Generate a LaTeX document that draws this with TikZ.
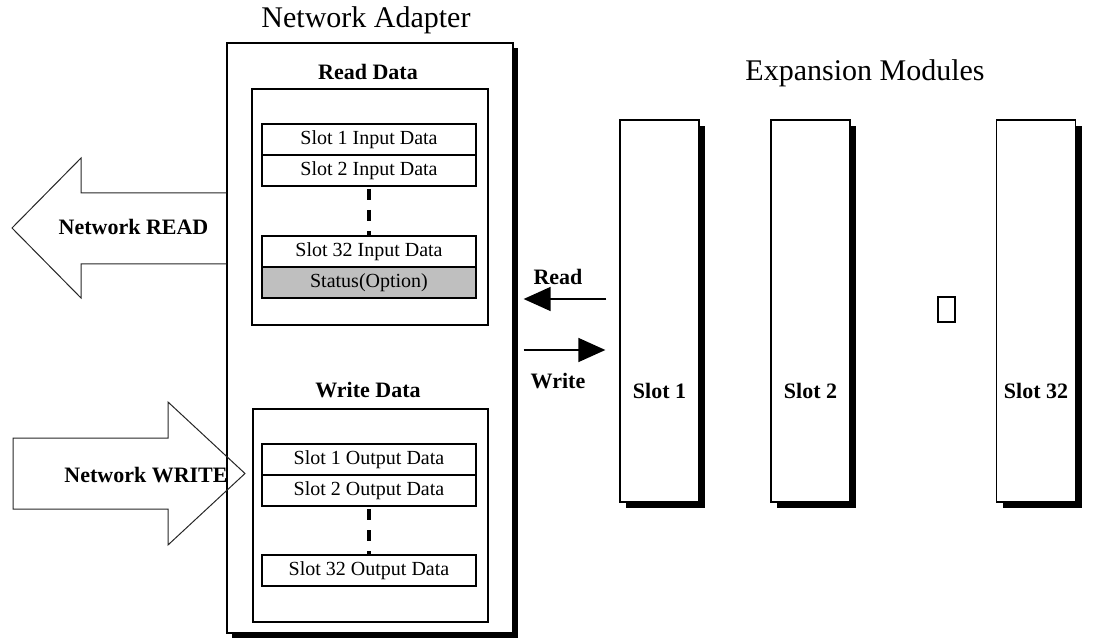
\documentclass[tikz,border=0pt]{standalone}
\usepackage{fontspec}
\setmainfont{Liberation Serif}
\usepackage{tikz}
\usetikzlibrary{arrows.meta}
\usetikzlibrary{calc}
\usetikzlibrary{shadows}

\tikzset{
  panel/.style={shape=rectangle,draw,fill=white,line width=1.3pt},
  hardshadow/.style={drop shadow={shadow xshift=#1,shadow yshift=-#1,fill=black,opacity=1}},
  datarow/.style={shape=rectangle,draw,fill=white,line width=1.3pt,outer sep=0pt,inner sep=0pt,minimum width=214pt,minimum height=31pt,text height=14pt,text depth=4pt,font=\fontsize{20}{24}\selectfont},
  heading/.style={anchor=base,font=\fontsize{30}{36}\selectfont},
  tag/.style={anchor=base,font=\fontsize{22}{26}\selectfont\bfseries},
  vdots/.style={line width=4pt,dash pattern=on 11pt off 10pt,shorten <=3pt},
  flow/.style={line width=1.5pt,-{Triangle[length=27pt,width=24pt]}},
  bigarrow/.style={draw=black!85,line width=1pt}
}

\begin{document}
\begin{tikzpicture}[x=1pt,y=-1pt]
\useasboundingbox (0,0) rectangle (1093,639);
% network adapter
\draw (370,338) node (adapter) [panel,hardshadow=5pt,minimum width=286pt,minimum height=590pt] {};
\draw (366,28) node [heading] {Network Adapter};
% read side
\draw (368,80) node [tag] {Read Data};
\draw (370,207) node (rdbox) [panel,minimum width=236pt,minimum height=236pt] {};
\draw (369,139.5) node (in1) [datarow] {Slot 1 Input Data};
\draw (in1.south) node (in2) [datarow,anchor=north] {Slot 2 Input Data};
\draw (369,251.5) node (in32) [datarow] {Slot 32 Input Data};
\draw (in32.south) node (status) [datarow,anchor=north,fill=black!25] {Status(Option)};
\draw[vdots] (in2.south) -- (in32.north);
% write side
\draw (368,397) node [tag] {Write Data};
\draw (370.5,515.5) node (wrbox) [panel,minimum width=235pt,minimum height=213pt] {};
\draw (369,459.5) node (out1) [datarow] {Slot 1 Output Data};
\draw (out1.south) node (out2) [datarow,anchor=north] {Slot 2 Output Data};
\draw (369,570.5) node (out32) [datarow] {Slot 32 Output Data};
\draw[vdots] (out2.south) -- (out32.north);
% network arrows
\draw[bigarrow] (adapter.west |- 0,193) -- (81,193) -- (81,158) -- (12,228) -- (81,298) -- (81,264) -- (adapter.west |- 0,264);
\draw (133.5,235) node (netread) [tag] {Network READ};
\draw[bigarrow] (13,438) -- (168,438) -- (168,402) -- (245,473.5) -- (168,545) -- (168,509) -- (13,509) -- cycle;
\draw (146,482) node (netwrite) [tag] {Network WRITE};
% expansion modules
\draw (865,81) node [heading] {Expansion Modules};
\draw (659.5,311) node (slot1) [panel,hardshadow=6pt,minimum width=79pt,minimum height=382pt] {};
\draw (810.5,311) node (slot2) [panel,hardshadow=6pt,minimum width=79pt,minimum height=382pt] {};
\draw (1036,311) node (slot32) [panel,hardshadow=6pt,minimum width=79pt,minimum height=382pt] {};
\draw (slot1 |- 0,398) node [tag] {Slot 1};
\draw (slot2 |- 0,398) node [tag] {Slot 2};
\draw (slot32 |- 0,398) node [tag] {Slot 32};
\draw (946.5,309.5) node (gap) [draw,line width=1.3pt,inner sep=0pt,minimum width=17pt,minimum height=25pt] {};
% read / write between adapter and slot 1
\draw[flow,shorten <=13pt,shorten >=10pt] (slot1.west |- 0,299) -- (adapter.east |- 0,299);
\draw (558,285) node [tag] {Read};
\draw[flow,shorten <=10pt,shorten >=14pt] (adapter.east |- 0,350) -- (slot1.west |- 0,350);
\draw (558,388) node [tag] {Write};
\end{tikzpicture}
\end{document}
